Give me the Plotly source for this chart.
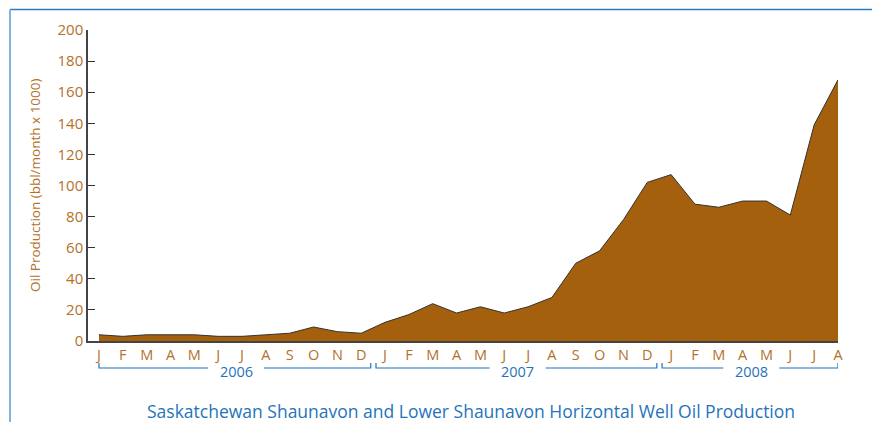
import plotly.graph_objects as go

months = ["J","F","M","A","M","J","J","A","S","O","N","D",
          "J","F","M","A","M","J","J","A","S","O","N","D",
          "J","F","M","A","M","J","J","A"]
production = [4, 3, 4, 4, 4, 3, 3, 4, 5, 9, 6, 5,
              12, 17, 24, 18, 22, 18, 22, 28, 50, 58, 78, 102,
              107, 88, 86, 90, 90, 81, 139, 168]
years = ["2006", "2007", "2008"]
year_spans = [(0, 11.4), (11.62, 23.4), (23.62, 31)]
y_ticks = [0, 20, 40, 60, 80, 100, 120, 140, 160, 180, 200]

idx = list(range(len(production)))
BROWN_TXT = "#b2712a"
BLUE = "#1f74bb"
FONT = "Open Sans"

fig = go.Figure()
fig.add_trace(go.Scatter(
    x=idx, y=production, mode="lines", fill="tozeroy",
    fillcolor="#a5600d", line=dict(color="#333333", width=1),
    hoverinfo="x+y", showlegend=False))

# page has an 8px body margin; plot area in page pixels: x 88..838, y 30..341
OFF = 8
W, H = 880 - OFF, 422 - OFF
L, R, T, B = 88, 838, 30, 341
STEP = (R - 99) / 31.0
def px(x): return (x - L) / (R - L)
def py(y): return (B - y) / (B - T)

shapes = []
shapes.append(dict(type="line", xref="paper", yref="paper", x0=px(10), x1=px(878), y0=py(9.5), y1=py(9.5),
                   line=dict(color="#2f7cc0", width=1.5)))
shapes.append(dict(type="line", xref="paper", yref="paper", x0=px(10), x1=px(10), y0=py(9.5), y1=py(430),
                   line=dict(color="#82b4e0", width=2)))
shapes.append(dict(type="line", xref="paper", yref="paper", x0=px(878), x1=px(878), y0=py(9.5), y1=py(430),
                   line=dict(color="#2f7cc0", width=1.5)))
annotations = []
GAP = 28 / STEP
for (a, b), yr in zip(year_spans, years):
    c = (a + b) / 2 + 0.05
    shapes.append(dict(type="path", xref="x", yref="paper",
                       path=f"M {a},{py(363)} L {a},{py(368)} L {c - GAP},{py(368)}",
                       line=dict(color=BLUE, width=1.2)))
    shapes.append(dict(type="path", xref="x", yref="paper",
                       path=f"M {c + GAP},{py(368)} L {b},{py(368)} L {b},{py(363)}",
                       line=dict(color=BLUE, width=1.2)))
    annotations.append(dict(x=c, y=py(371), xref="x", yref="paper", text=yr,
                            showarrow=False,
                            font=dict(family=FONT, size=14.5, color=BLUE),
                            xanchor="center", yanchor="middle"))

annotations.append(dict(x=px(471), y=py(411), xref="paper", yref="paper",
                        text="Saskatchewan Shaunavon and Lower Shaunavon Horizontal Well Oil Production",
                        showarrow=False, font=dict(family=FONT, size=17.5, color=BLUE),
                        xanchor="center", yanchor="middle"))
annotations.append(dict(x=px(35), y=py(185), xref="paper", yref="paper",
                        text="Oil Production (bbl/month x 1000)", textangle=-90,
                        showarrow=False, font=dict(family=FONT, size=13.5, color=BROWN_TXT),
                        xanchor="center", yanchor="middle"))

fig.update_layout(
    width=W, height=H,
    margin=dict(l=L - OFF, r=880 - R, t=T - OFF, b=422 - B),
    paper_bgcolor="white", plot_bgcolor="white",
    shapes=shapes, annotations=annotations,
    xaxis=dict(range=[-0.46, 31], tickvals=idx, ticktext=months, showgrid=False,
               zeroline=False, showline=True, linecolor="#444444", linewidth=1.5,
               ticks="", tickfont=dict(family=FONT, size=14.5, color=BROWN_TXT),
               fixedrange=True),
    yaxis=dict(range=[0, 200], tickvals=y_ticks, showgrid=False, zeroline=False,
               showline=True, linecolor="#444444", linewidth=1.5,
               ticks="inside", ticklen=7, tickcolor="#333333", tickwidth=1.2,
               tickfont=dict(family=FONT, size=15, color=BROWN_TXT)),
)
fig.write_html("out.html")
